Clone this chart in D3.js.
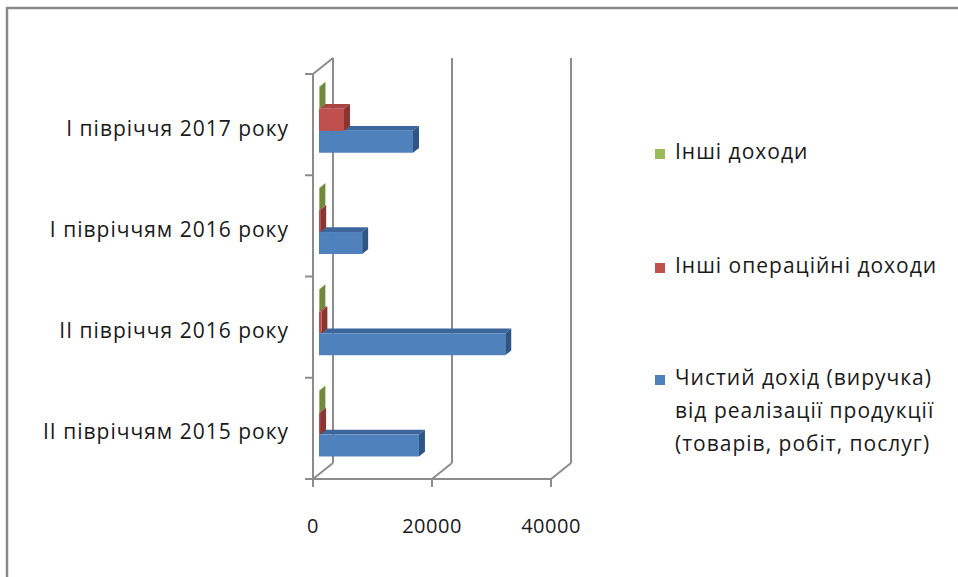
<!DOCTYPE html>
<meta charset="utf-8">
<style>
body { margin: 0; background: #fff; }
text { font-family: "Open Sans", "Noto Sans", sans-serif; fill: #1a1a1a; }
.grid { stroke: #8c8c8c; stroke-width: 2; fill: none; }
.lbl { font-size: 21px; letter-spacing: 1px; }
</style>
<svg width="958" height="577"></svg>
<script src="https://d3js.org/d3.v7.min.js"></script>
<script>

// data
var categories = ["I півріччя 2017 року", "I півріччям 2016 року", "II півріччя 2016 року", "II півріччям 2015 року"];
var seriesNames = ["Інші доходи", "Інші операційні доходи", "Чистий дохід (виручка) від реалізації продукції (товарів, робіт, послуг)"];
var otherIncome = [80, 60, 60, 60];
var otherOperating = [4200, 200, 400, 180];
var netRevenue = [15800, 7250, 31300, 16800];
var xTicks = [0, 20000, 40000];

var legendLines = [["Інші доходи"], ["Інші операційні доходи"], ["Чистий дохід (виручка)", "від реалізації продукції", "(товарів, робіт, послуг)"]];

var colors = [
  {front: "#9bbb59", top: "#8aa94c", side: "#6f8a3a"},
  {front: "#c0504d", top: "#a84442", side: "#8c3432"},
  {front: "#4f81bd", top: "#3d679c", side: "#2f5584"}
];
var values = [otherIncome, otherOperating, netRevenue];

var svg = d3.select("svg");

// frame
svg.append("rect")
    .attr("x", 7).attr("y", 8)
    .attr("width", 980).attr("height", 600)
    .attr("fill", "none")
    .attr("stroke", "#8a8a8a")
    .attr("stroke-width", 2.5);

var x = d3.scaleLinear().domain([0, 40000]).range([313, 551]);
var y = d3.scaleBand().domain(categories).range([74, 479]).paddingInner(0.35).paddingOuter(0.175);
var sub = d3.scaleBand().domain([0, 1, 2]).range([0, y.bandwidth()]);

var wallDx = 20, wallDy = -16;
var barOff = 0.3, barDepth = 0.3;

var yTop = 74, yBot = 479;

// back wall gridlines + floor diagonals
var g = svg.append("g");
xTicks.forEach(function(v) {
  g.append("line").attr("class", "grid")
    .attr("x1", x(v) + wallDx).attr("y1", yTop + wallDy)
    .attr("x2", x(v) + wallDx).attr("y2", yBot + wallDy);
  g.append("line").attr("class", "grid")
    .attr("x1", x(v)).attr("y1", yBot)
    .attr("x2", x(v) + wallDx).attr("y2", yBot + wallDy);
  g.append("line").attr("class", "grid")
    .attr("x1", x(v)).attr("y1", yBot)
    .attr("x2", x(v)).attr("y2", yBot + 8);
});
// left wall
g.append("line").attr("class", "grid")
  .attr("x1", x(0)).attr("y1", yTop).attr("x2", x(0)).attr("y2", yBot);
g.append("line").attr("class", "grid")
  .attr("x1", x(0)).attr("y1", yTop).attr("x2", x(0) + wallDx).attr("y2", yTop + wallDy);
// floor front edge
g.append("line").attr("class", "grid")
  .attr("x1", x(0) - 8).attr("y1", yBot).attr("x2", x(40000)).attr("y2", yBot);
// category ticks
var step = (yBot - yTop) / categories.length;
d3.range(categories.length + 1).forEach(function(i) {
  g.append("line").attr("class", "grid")
    .attr("x1", x(0) - 8).attr("y1", yTop + i * step)
    .attr("x2", x(0)).attr("y2", yTop + i * step);
});

// bars
var ox = wallDx * barOff, oy = wallDy * barOff;
var dx = wallDx * barDepth, dy = wallDy * barDepth;
var bars = svg.append("g");
categories.forEach(function(c, ci) {
  [2, 1, 0].forEach(function(si) {
    var v = values[si][ci];
    var x0 = x(0) + ox, x1 = x(v) + ox;
    var y0 = y(c) + sub(si) + oy, h = sub.bandwidth();
    var col = colors[si];
    bars.append("path")
      .attr("d", "M" + x0 + "," + y0 + "L" + x1 + "," + y0 + "L" + (x1 + dx) + "," + (y0 + dy) + "L" + (x0 + dx) + "," + (y0 + dy) + "Z")
      .attr("fill", col.top);
    bars.append("path")
      .attr("d", "M" + x1 + "," + y0 + "L" + (x1 + dx) + "," + (y0 + dy) + "L" + (x1 + dx) + "," + (y0 + dy + h) + "L" + x1 + "," + (y0 + h) + "Z")
      .attr("fill", col.side);
    bars.append("rect")
      .attr("x", x0).attr("y", y0)
      .attr("width", Math.max(0, x1 - x0)).attr("height", h)
      .attr("fill", col.front);
  });
});

// category labels
svg.append("g").selectAll("text")
  .data(categories)
  .enter().append("text")
    .attr("class", "lbl")
    .attr("x", 289)
    .attr("y", function(d) { return y(d) + y.bandwidth() / 2 + 11; })
    .attr("text-anchor", "end")
    .text(function(d) { return d; });

// x tick labels
svg.append("g").selectAll("text")
  .data(xTicks)
  .enter().append("text")
    .attr("x", function(d) { return x(d); })
    .attr("y", 533)
    .attr("text-anchor", "middle")
    .style("font-size", "20px")
    .style("letter-spacing", "0.5px")
    .text(function(d) { return d; });

// legend
var legendY = [159, 273, 385];
var lg = svg.append("g");
legendLines.forEach(function(lines, i) {
  lg.append("rect")
    .attr("x", 655).attr("y", legendY[i] - 10)
    .attr("width", 10).attr("height", 10)
    .attr("fill", colors[i].front);
  lines.forEach(function(t, j) {
    lg.append("text")
      .attr("class", "lbl")
      .attr("x", 675).attr("y", legendY[i] + j * 33)
      .text(t);
  });
});

</script>
